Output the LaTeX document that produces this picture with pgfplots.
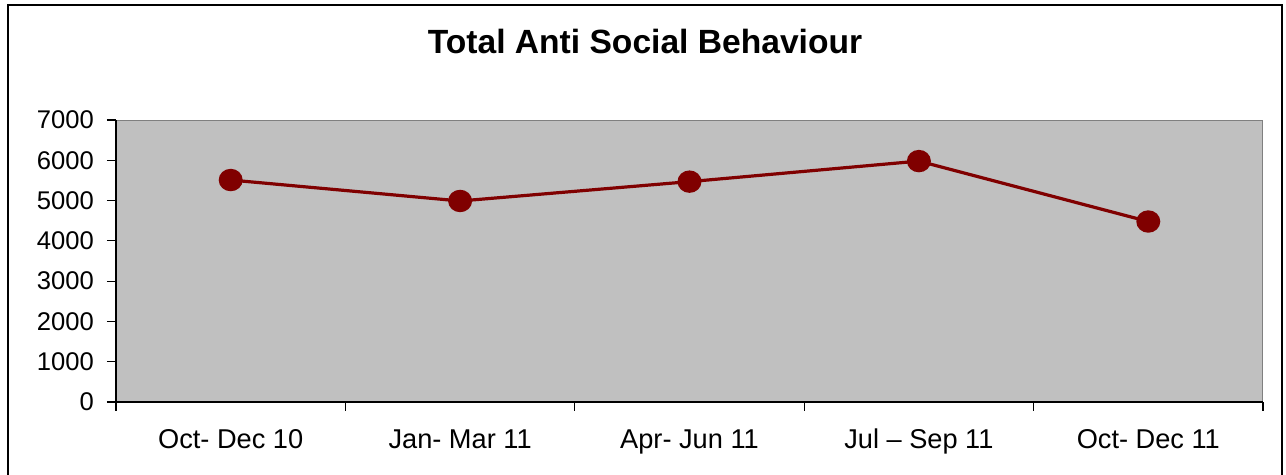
\documentclass[border=0pt]{standalone}
\usepackage{pgfplots}
\pgfplotsset{compat=1.18}
\usepackage{fontspec}
\setmainfont{Liberation Sans}
\definecolor{bgray}{HTML}{C0C0C0}
\definecolor{mred}{HTML}{800000}
\begin{document}
\begin{tikzpicture}
\useasboundingbox (0,0) rectangle (643pt,237.5pt);
\draw[line width=0.9pt] (4pt,-2pt) -- (4pt,235pt) -- (641pt,235pt) -- (641pt,-2pt);
\node[font=\fontsize{16.8}{19}\selectfont\bfseries] at (322.5pt,216.5pt) {Total Anti Social Behaviour};
\begin{axis}[
  at={(58pt,36.5pt)}, anchor=south west,
  scale only axis, width=573.5pt, height=141pt,
  xmin=-0.5, xmax=4.5, ymin=0, ymax=7000,
  axis x line=bottom, axis y line=left,
  axis line style={-, black, line width=0.8pt},
  axis background/.style={fill=bgray, draw=gray, line width=0.5pt},
  xtick={-0.5,0.5,...,4.5},
  x tick label as interval,
  xticklabels={Oct- Dec 10,Jan- Mar 11,Apr- Jun 11,Jul -- Sep 11,Oct- Dec 11},
  ytick={0,1000,...,7000},
  tick align=outside,
  major tick length=4.5pt,
  tick style={black, line width=0.6pt},
  tick label style={font=\fontsize{13.6}{15}\selectfont},
  yticklabel style={font=\fontsize{12.8}{15}\selectfont, xshift=-3pt},
  /pgf/number format/assume math mode=true,
  /pgf/number format/1000 sep={},
  xticklabel style={yshift=-5pt, text height=10pt, text depth=3pt},
]
\addplot[mred, line width=1.6pt, mark=*, mark size=4.8pt, mark options={fill=mred, draw=mred, xscale=1.08}]
coordinates {(0,5510) (1,4990) (2,5470) (3,5980) (4,4480)};
\end{axis}
\end{tikzpicture}
\end{document}
